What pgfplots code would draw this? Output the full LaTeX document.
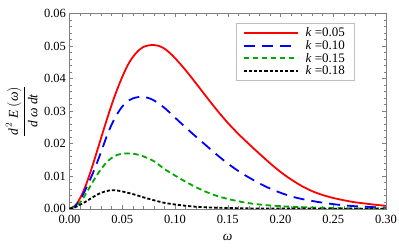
\documentclass[border=0pt]{standalone}
\usepackage{pgfplots}
\pgfplotsset{compat=1.18}
\usepackage{fontspec}
\setmainfont{Liberation Serif}
\definecolor{mgreen}{rgb}{0,0.67,0}
\begin{document}
\begin{tikzpicture}
\useasboundingbox (-69.5pt,-40.3pt) rectangle (329.5pt,208.7pt);
\begin{axis}[
  at={(0,0)}, anchor=south west,
  scale only axis, width=316.5pt, height=195.2pt,
  xmin=0, xmax=0.30, ymin=0, ymax=0.06,
  xtick={0,0.05,0.10,0.15,0.20,0.25,0.30},
  ytick={0,0.01,0.02,0.03,0.04,0.05,0.06},
  minor x tick num=4, minor y tick num=4,
  tick align=inside,
  major tick length=4pt, minor tick length=2.3pt,
  axis line style={black!50}, tick style={black!50, line width=0.4pt},
  /pgf/number format/assume math mode=true,
  /pgf/number format/.cd, fixed, fixed zerofill, precision=2, /pgfplots/.cd,
  scaled ticks=false,
  tick label style={font=\fontsize{12.5}{14}\selectfont},
  xticklabel style={yshift=-2.5pt},
  every axis x label/.style={at={(axis description cs:0.5,-0.145)}, anchor=center},
  every axis y label/.style={at={(axis description cs:-0.151,0.5)}, rotate=90, anchor=center},
  xlabel={\fontsize{13.5}{15}\selectfont\textit{ω}},
  ylabel={\fontsize{13.5}{15}\selectfont$\displaystyle\frac{\textit{d}^{\,2}\ \textit{E}\ (\textit{ω})}{\textit{d}\ \textit{ω}\ \textit{dt}}$},
  legend style={at={(axis description cs:0.899,0.950)}, anchor=north east,
    draw=black!25, fill=white, font=\fontsize{13}{13}\selectfont,
    inner xsep=7pt, inner ysep=2.5pt, row sep=-2pt},
  legend cell align=left,
  legend image code/.code={\draw[#1] (0pt,0pt) -- (54pt,0pt); \path (59pt,0pt);},
]
\addplot[red, line width=1.8pt, smooth] coordinates {
(0,0) (0.005,0.0008) (0.01,0.0032) (0.015,0.0068) (0.02,0.0114) (0.025,0.0165)
(0.03,0.0218) (0.035,0.0270) (0.04,0.0320) (0.045,0.0365) (0.05,0.0405)
(0.055,0.0440) (0.06,0.0466) (0.065,0.0485) (0.07,0.0497) (0.075,0.0502)
(0.08,0.0503) (0.085,0.0500) (0.09,0.0492) (0.095,0.0479) (0.10,0.0463)
(0.11,0.0426) (0.12,0.0385) (0.13,0.0343) (0.14,0.0302) (0.15,0.0264)
(0.16,0.0230) (0.17,0.0199) (0.18,0.0169) (0.19,0.0140) (0.20,0.0113)
(0.21,0.0090) (0.22,0.0070) (0.23,0.0054) (0.24,0.0042) (0.25,0.0033)
(0.26,0.0026) (0.27,0.0020) (0.28,0.0016) (0.29,0.0012) (0.30,0.0009)};
\addlegendentry{\textit{k} =0.05}
\addplot[blue, line width=1.8pt, dash pattern=on 11pt off 7pt, smooth] coordinates {
(0,0) (0.005,0.0007) (0.01,0.0026) (0.015,0.0058) (0.02,0.0093) (0.025,0.0132)
(0.03,0.0175) (0.035,0.0220) (0.04,0.0259) (0.045,0.0290) (0.05,0.0314)
(0.055,0.0330) (0.06,0.0339) (0.065,0.0343) (0.07,0.0344) (0.075,0.0340)
(0.08,0.0333) (0.09,0.0310) (0.10,0.0280) (0.11,0.0250) (0.12,0.0221)
(0.13,0.0193) (0.14,0.0165) (0.15,0.0139) (0.16,0.0116) (0.17,0.0096)
(0.18,0.0078) (0.19,0.0062) (0.20,0.0049) (0.21,0.0038) (0.22,0.0030)
(0.235,0.0021) (0.25,0.0014) (0.265,0.0009) (0.28,0.0006) (0.30,0.0003)};
\addlegendentry{\textit{k} =0.10}
\addplot[mgreen, line width=1.8pt, dash pattern=on 5.5pt off 3.5pt, smooth] coordinates {
(0,0) (0.005,0.0005) (0.01,0.0019) (0.015,0.0043) (0.02,0.0071) (0.025,0.0098)
(0.03,0.0122) (0.035,0.0142) (0.04,0.0156) (0.045,0.0165) (0.05,0.0169)
(0.055,0.0170) (0.06,0.0169) (0.065,0.0166) (0.07,0.0161) (0.08,0.0146)
(0.09,0.0122) (0.10,0.0102) (0.11,0.0083) (0.12,0.0066) (0.13,0.0051)
(0.14,0.0039) (0.15,0.0030) (0.16,0.0023) (0.17,0.0017) (0.18,0.0013)
(0.19,0.0010) (0.21,0.0006) (0.24,0.0003) (0.27,0.0001) (0.30,0.0001)};
\addlegendentry{\textit{k} =0.15}
\addplot[black, line width=1.8pt, dash pattern=on 3.2pt off 2pt, smooth] coordinates {
(0,0) (0.005,0.0004) (0.01,0.0012) (0.015,0.0021) (0.02,0.0031) (0.025,0.0041)
(0.03,0.0049) (0.035,0.0054) (0.04,0.0057) (0.045,0.0056) (0.05,0.0053)
(0.06,0.0045) (0.07,0.0035) (0.08,0.0026) (0.09,0.0018) (0.10,0.0013)
(0.11,0.0009) (0.12,0.0006) (0.14,0.0003) (0.17,0.0001) (0.20,0.00003) (0.30,0)};
\addlegendentry{\textit{k} =0.18}
\end{axis}
\end{tikzpicture}
\end{document}
